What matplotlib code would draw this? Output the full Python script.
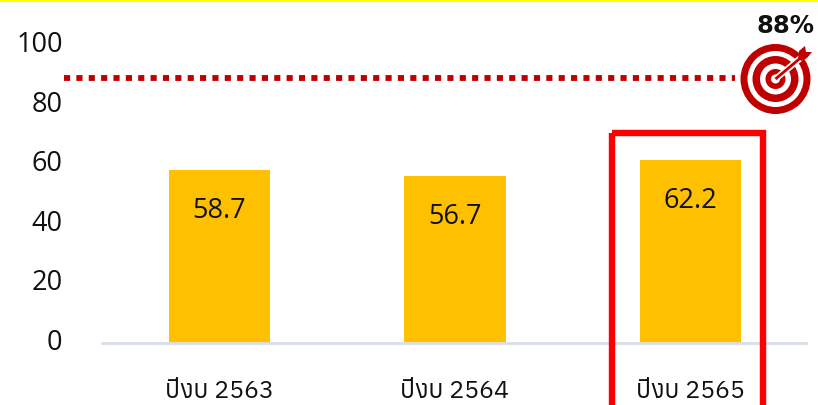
import matplotlib
matplotlib.use("Agg")
import matplotlib.pyplot as plt
from matplotlib import font_manager as fm
from matplotlib.ft2font import FT2Font
from matplotlib.patches import Circle, Rectangle, Polygon

THAI_PROBE = "\u0e1b"
thai_fonts = []
for f in fm.fontManager.ttflist:
    try:
        if ord(THAI_PROBE) in FT2Font(f.fname).get_charmap():
            thai_fonts.append(f.name)
    except Exception:
        pass
thai_family = (sorted(set(thai_fonts)) or ["DejaVu Sans"])[0]

years = ["ปีงบ 2563", "ปีงบ 2564", "ปีงบ 2565"]
values = [58.7, 56.7, 62.2]
value_labels = ["58.7", "56.7", "62.2"]
y_ticks = [0, 20, 40, 60, 80, 100]
target = 88
target_label = "88%"

W, H = 818, 405
fig = plt.figure(figsize=(W / 100, H / 100), dpi=100, facecolor="white")

def axes_px(x0, y_top, x1, y_bottom):
    return fig.add_axes([x0 / W, 1 - y_bottom / H, (x1 - x0) / W, (y_bottom - y_top) / H])

# Bars: 0 at y=343 px, 2.945 px per unit
ax = axes_px(101.75, 48.5, 808.25, 343)
ax.set_xlim(-0.5, 2.5)
ax.set_ylim(0, 100)
ax.bar(range(3), values, width=0.43, color="#FFC000", zorder=2)
for i, (v, lab) in enumerate(zip(values, value_labels)):
    ax.text(i, v - 13.9, lab, ha="center", va="center", fontsize=19.5,
            family="Open Sans", color="#111111", zorder=3)
for s in ["top", "right", "left"]:
    ax.spines[s].set_visible(False)
ax.spines["bottom"].set_color("#D9DEE8")
ax.spines["bottom"].set_linewidth(2)
ax.spines["bottom"].set_bounds(-0.5, 2.49)
ax.set_yticks([])
ax.set_xticks(range(3))
ax.set_xticklabels(years, family=[thai_family, "DejaVu Sans"], fontsize=18, color="#111111")
ax.tick_params(axis="x", length=0, pad=27)
ax.patch.set_alpha(0)

# Value-axis labels and target line share a slightly different scale
ax2 = axes_px(64, 42, 735, 339)
ax2.set_ylim(0, 100)
ax2.set_xlim(0, 1)
ax2.patch.set_alpha(0)
for s in ax2.spines.values():
    s.set_visible(False)
ax2.set_xticks([])
ax2.set_yticks(y_ticks)
ax2.tick_params(axis="y", length=0, pad=1)
ax2.set_yticklabels([str(t) for t in y_ticks], family="Open Sans", fontsize=19.5, color="#111111")
ax2.axhline(target, color="#C00000", lw=4.2, linestyle=(0, (1.05, 1.07)), zorder=4)

# Overlay in pixel coordinates: highlight box, top rule, target icon
ov = fig.add_axes([0, 0, 1, 1])
ov.set_xlim(0, W)
ov.set_ylim(H, 0)
ov.axis("off")
ov.patch.set_alpha(0)
ov.add_patch(Rectangle((0, 0), W, 1.6, color="#FFFF00", lw=0))
ov.add_patch(Rectangle((612, 133.2), 151, 290, fill=False, ec="#FF0000", lw=4.6, clip_on=True))

cx, cy = 775.5, 79
for r, c in zip([35, 28, 23, 15.5, 10, 4.5], ["#C00000", "white"] * 3):
    ov.add_patch(Circle((cx, cy), r, color=c, lw=0, zorder=5))
ov.plot([cx, 803], [cy, 56], color="white", lw=4.5, zorder=6, solid_capstyle="butt")
ov.plot([cx, 804], [cy, 55], color="#C00000", lw=2, zorder=7, solid_capstyle="butt")
ov.add_patch(Polygon([(798, 59), (799, 51), (805, 46), (806, 52), (812, 52), (807, 58), (802, 61)],
                     color="#C00000", lw=0, zorder=7))
ov.text(785, 26, target_label, ha="center", va="center", fontsize=17.5, fontweight="bold",
        family="DejaVu Sans", color="#111111", zorder=8)

fig.savefig("out.png", dpi=100)
